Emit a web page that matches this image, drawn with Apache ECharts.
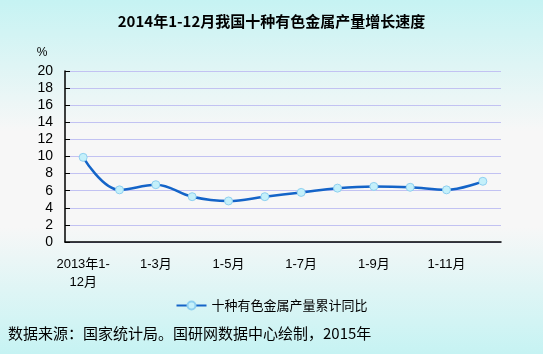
<!DOCTYPE html>
<html>
<head>
<meta charset="utf-8">
<script src="https://cdn.jsdelivr.net/npm/echarts@6/dist/echarts.min.js"></script>
<style>
  html, body { margin: 0; padding: 0; }
  .main { width: 543px; height: 354px; }
</style>
</head>
<body>
<div class="main"></div>
<script>
  const categories = ['2013年1-12月', '1-2月', '1-3月', '1-4月', '1-5月', '1-6月',
                      '1-7月', '1-8月', '1-9月', '1-10月', '1-11月', '1-12月'];
  const growth = [9.9, 6.1, 6.7, 5.3, 4.8, 5.3, 5.8, 6.3, 6.5, 6.4, 6.1, 7.1];
  const yTicks = [0, 20, 2];  // min, max, interval

  const cjk = '"Noto Sans CJK SC", sans-serif';
  let myChart = echarts.init(document.querySelector('.main'));

  let option = {
    backgroundColor: {
      type: 'linear', x: 0, y: 0, x2: 0, y2: 1,
      colorStops: [
        { offset: 0, color: '#c6f3f3' },
        { offset: 0.37, color: '#f7f7f7' },
        { offset: 0.64, color: '#f7f7f7' },
        { offset: 1, color: '#c6f3f3' }
      ]
    },
    title: {
      text: '2014年1-12月我国十种有色金属产量增长速度',
      left: 'center',
      top: 9,
      textStyle: { fontFamily: cjk, fontSize: 15, fontWeight: 'bold', color: '#000' }
    },
    legend: {
      bottom: 37,
      left: 'center',
      itemWidth: 30,
      itemHeight: 10,
      itemGap: 4,
      data: ['十种有色金属产量累计同比'],
      textStyle: { fontFamily: cjk, fontSize: 13, color: '#000' }
    },
    graphic: [{
      type: 'text',
      left: 8,
      top: 326,
      style: {
        text: '数据来源：国家统计局。国研网数据中心绘制，2015年',
        font: '15px "Noto Sans CJK SC"',
        fill: '#000'
      }
    }],
    grid: { left: 65, right: 42, top: 71, bottom: 112 },
    xAxis: {
      type: 'category',
      data: categories,
      boundaryGap: true,
      axisLine: { lineStyle: { color: '#000', width: 1.5 } },
      axisTick: { inside: true, length: 5, interval: 0, lineStyle: { color: '#000' } },
      axisLabel: {
        interval: 1,
        margin: 13,
        fontFamily: 'Liberation Sans, ' + cjk,
        fontSize: 13,
        lineHeight: 18,
        color: '#000',
        formatter: v => v === categories[0] ? '2013年1-\n12月' : v
      }
    },
    yAxis: {
      type: 'value',
      min: yTicks[0],
      max: yTicks[1],
      interval: yTicks[2],
      name: '%',
      nameLocation: 'end',
      nameGap: 12,
      nameTextStyle: { fontSize: 12, color: '#000', padding: [0, 46, 0, 0] },
      axisLine: { show: true, lineStyle: { color: '#000', width: 1.5 } },
      axisTick: { show: true, inside: true, length: 5, lineStyle: { color: '#000' } },
      axisLabel: { margin: 12, fontFamily: 'Liberation Sans', fontSize: 14, color: '#000' },
      splitLine: { lineStyle: { color: '#c2c2f2', width: 1 } }
    },
    series: [{
      name: '十种有色金属产量累计同比',
      type: 'line',
      smooth: 0.4,
      data: growth,
      symbol: 'circle',
      symbolSize: 8,
      lineStyle: { color: '#1464c8', width: 2.5 },
      itemStyle: { color: '#c4f0fa', borderColor: '#8fd0f0', borderWidth: 1 }
    }]
  };

  myChart.setOption(option);
</script>
</body>
</html>
